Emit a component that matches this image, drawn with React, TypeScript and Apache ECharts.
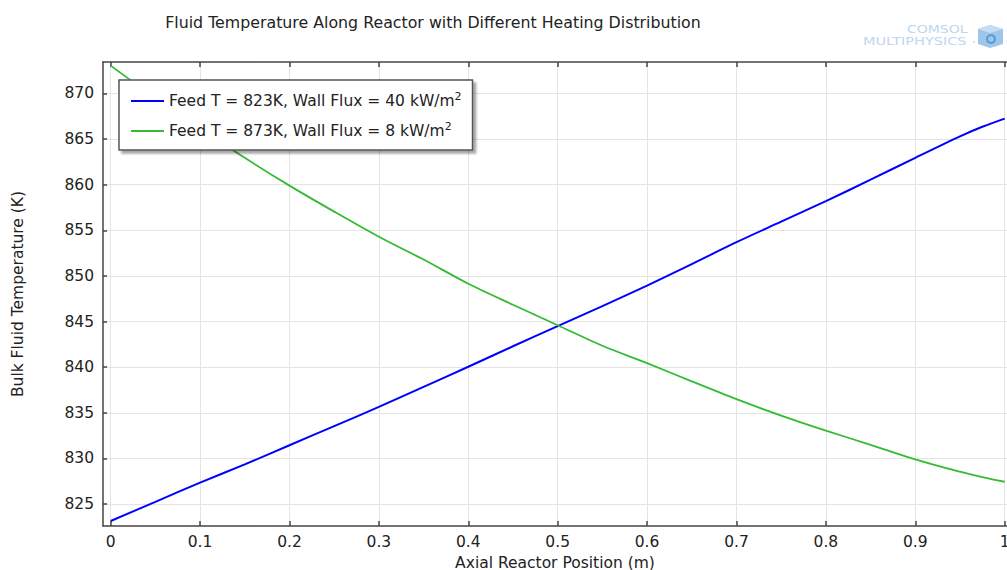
import React, { useEffect, useRef } from "react";
import * as echarts from "echarts";

const positions = [0, 0.05, 0.1, 0.15, 0.2, 0.25, 0.3, 0.35, 0.4, 0.45, 0.5, 0.55, 0.6, 0.65, 0.7, 0.75, 0.8, 0.85, 0.9, 0.95, 0.975, 1.0];
const blueTemps = [823.15, 825.25, 827.35, 829.35, 831.45, 833.55, 835.65, 837.85, 840.05, 842.3, 844.5, 846.7, 848.95, 851.3, 853.7, 855.95, 858.2, 860.55, 862.95, 865.3, 866.35, 867.25];
const greenTemps = [873.05, 869.5, 866.2, 862.95, 859.9, 857.05, 854.3, 851.8, 849.15, 846.85, 844.6, 842.35, 840.45, 838.45, 836.5, 834.7, 833.05, 831.5, 829.9, 828.55, 827.95, 827.45];
const xTicks = [0, 0.1, 0.2, 0.3, 0.4, 0.5, 0.6, 0.7, 0.8, 0.9, 1];
const yTicks = [825, 830, 835, 840, 845, 850, 855, 860, 865, 870];
const seriesNames = ["Feed T = 823K, Wall Flux = 40 kW/m2", "Feed T = 873K, Wall Flux = 8 kW/m2"];
const titleText = "Fluid Temperature Along Reactor with Different Heating Distribution";

const FONT = "DejaVu Sans";
const FS = 15.5;

export default function App() {
  const ref = useRef<HTMLDivElement>(null);
  useEffect(() => {
    if (!ref.current) return;
    const chart = echarts.init(ref.current, undefined, { renderer: "svg" });
    const axisColor = "#444";
    const gridColor = "#e4e4e4";
    const xFmt = (v: number) => String(Math.round(v * 10) / 10);
    chart.setOption({
      animation: false,
      backgroundColor: "#fff",
      textStyle: { fontFamily: FONT },
      title: {
        text: titleText,
        left: 428,
        textAlign: "center",
        top: 9,
        textStyle: { fontFamily: FONT, fontSize: 15.8, fontWeight: "normal", color: "#222" },
      },
      grid: { left: 103, top: 62, right: 0, bottom: 44, containLabel: false, outerBoundsMode: "none" },
      legend: {
        orient: "vertical",
        left: 119,
        top: 80,
        data: seriesNames,
        itemWidth: 33,
        itemHeight: 14,
        itemGap: 10,
        padding: [11, 11, 9, 11],
        borderColor: "#555",
        borderWidth: 1.5,
        backgroundColor: "#fff",
        shadowColor: "rgba(0,0,0,0.35)",
        shadowBlur: 2,
        shadowOffsetX: 3,
        shadowOffsetY: 3,
        itemStyle: { opacity: 0 },
        formatter: (name: string) => name.replace(/m2$/, "m{sup|2}"),
        textStyle: {
          fontFamily: FONT,
          fontSize: FS,
          color: "#222",
          lineHeight: 20,
          rich: {
            sup: { fontFamily: FONT, fontSize: 11, lineHeight: 11, verticalAlign: "top", color: "#222" },
          },
        },
      },
      xAxis: [
        {
          type: "value",
          min: -0.0086,
          max: 1.0026,
          position: "bottom",
          name: "Axial Reactor Position (m)",
          nameLocation: "middle",
          nameGap: 25,
          nameTextStyle: { fontFamily: FONT, fontSize: FS, color: "#222" },
          axisLine: { show: true, onZero: false, lineStyle: { color: axisColor, width: 1.5 } },
          axisTick: { show: true, inside: true, length: 5, customValues: xTicks, lineStyle: { color: axisColor, width: 1.5 } },
          axisLabel: { customValues: xTicks, formatter: xFmt, fontFamily: FONT, fontSize: FS, color: "#222", margin: 8 },
          splitLine: { show: true, customValues: xTicks, lineStyle: { color: gridColor, width: 1 } },
        },
        {
          type: "value",
          min: -0.0086,
          max: 1.0026,
          position: "top",
          axisLine: { show: true, onZero: false, lineStyle: { color: axisColor, width: 1.5 } },
          axisTick: { show: true, inside: true, length: 5, customValues: xTicks, lineStyle: { color: axisColor, width: 1.5 } },
          axisLabel: { show: false },
          splitLine: { show: false },
        },
      ],
      yAxis: [
        {
          type: "value",
          min: 822.6,
          max: 873.45,
          position: "left",
          name: "Bulk Fluid Temperature (K)",
          nameLocation: "middle",
          nameGap: 77,
          nameTextStyle: { fontFamily: FONT, fontSize: FS, color: "#222" },
          axisLine: { show: true, onZero: false, lineStyle: { color: axisColor, width: 1.5 } },
          axisTick: { show: true, inside: true, length: 4, customValues: yTicks, lineStyle: { color: axisColor, width: 1.5 } },
          axisLabel: { customValues: yTicks, fontFamily: FONT, fontSize: FS, color: "#222", margin: 9 },
          splitLine: { show: true, customValues: yTicks, lineStyle: { color: gridColor, width: 1 } },
        },
      ],
      series: [
        {
          name: seriesNames[0],
          type: "line",
          xAxisIndex: 0,
          yAxisIndex: 0,
          showSymbol: false,
          symbol: "none",
          smooth: 0.3,
          data: positions.map((x, i) => [x, blueTemps[i]]),
          lineStyle: { color: "#0000ff", width: 2 },
          itemStyle: { color: "#0000ff" },
        },
        {
          name: seriesNames[1],
          type: "line",
          xAxisIndex: 0,
          yAxisIndex: 0,
          showSymbol: false,
          symbol: "none",
          smooth: 0.3,
          data: positions.map((x, i) => [x, greenTemps[i]]),
          lineStyle: { color: "#33bb33", width: 1.8 },
          itemStyle: { color: "#33bb33" },
        },
      ],
      graphic: [
        {
          type: "text",
          x: 907,
          y: 25,
          scaleX: 1.4,
          style: { text: "COMSOL", fontFamily: FONT, fontSize: 10, fill: "#bcd7ef" },
        },
        {
          type: "text",
          x: 863,
          y: 36,
          scaleX: 1.45,
          style: { text: "MULTIPHYSICS", fontFamily: FONT, fontSize: 10, fill: "#bcd7ef" },
        },
        {
          type: "circle",
          shape: { cx: 974, cy: 42, r: 1 },
          style: { fill: "#bcd7ef" },
        },
        {
          type: "polygon",
          shape: { points: [[990, 25], [1003, 29], [1003, 44], [990, 48], [978, 44], [978, 29]] },
          style: { fill: "#9cc6ea" },
        },
        {
          type: "polygon",
          shape: { points: [[990, 25], [1003, 29], [990, 33], [978, 29]] },
          style: { fill: "#c6def3" },
        },
        {
          type: "circle",
          shape: { cx: 991, cy: 39, r: 4 },
          style: { fill: "none", stroke: "#5a9bd3", lineWidth: 2 },
        },
      ],
    });
    return () => chart.dispose();
  }, []);
  return <div ref={ref} style={{ position: "absolute", left: 0, top: 0, width: 1007, height: 570 }} />;
}
